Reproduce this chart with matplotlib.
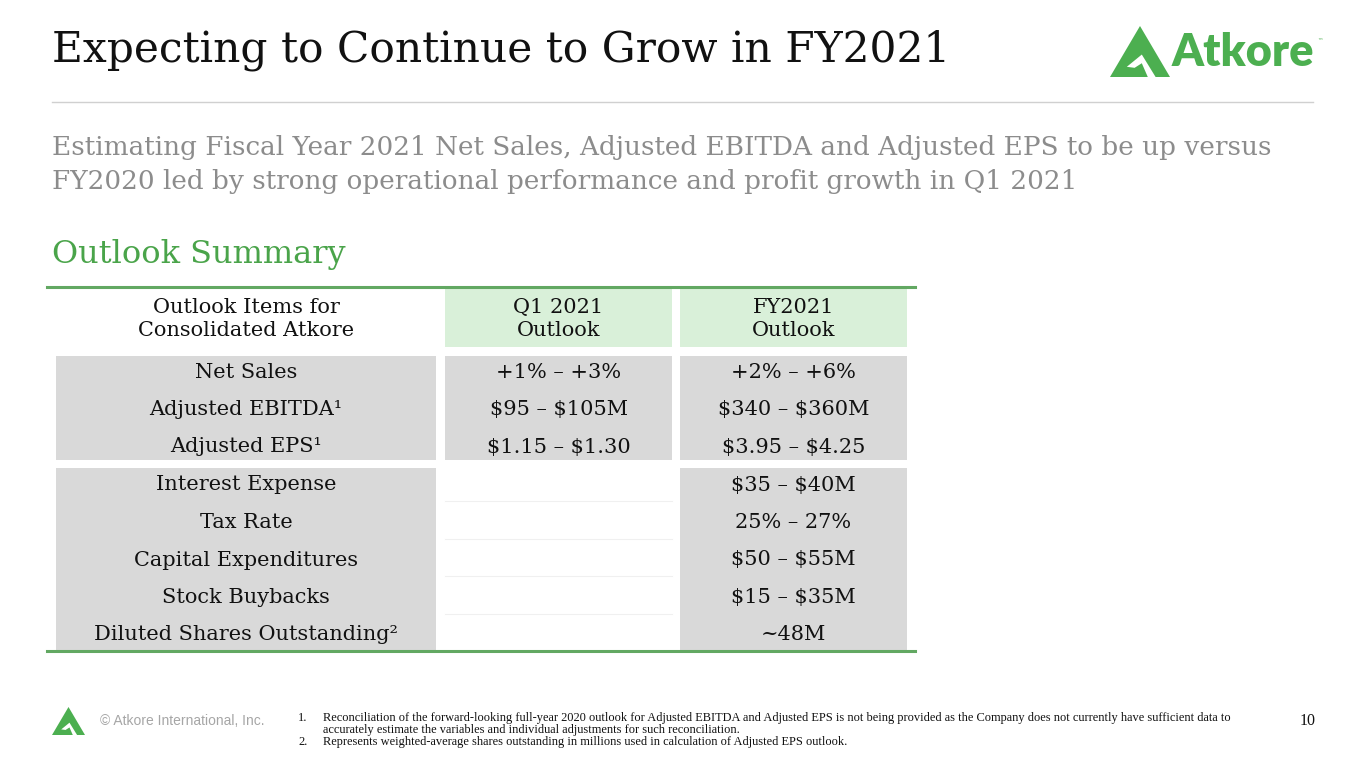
import matplotlib.pyplot as plt
from matplotlib.patches import Rectangle, Polygon

plt.rcParams['text.parse_math'] = False

# ---- data ----
title = "Expecting to Continue to Grow in FY2021"
subtitle = ["Estimating Fiscal Year 2021 Net Sales, Adjusted EBITDA and Adjusted EPS to be up versus",
            "FY2020 led by strong operational performance and profit growth in Q1 2021"]
section = "Outlook Summary"

headers = ["Outlook Items for\nConsolidated Atkore", "Q1 2021\nOutlook", "FY2021\nOutlook"]

items_main = ["Net Sales", "Adjusted EBITDA\u00b9", "Adjusted EPS\u00b9"]
q1_main = ["+1% \u2013 +3%", "$95 \u2013 $105M", "$1.15 \u2013 $1.30"]
fy_main = ["+2% \u2013 +6%", "$340 \u2013 $360M", "$3.95 \u2013 $4.25"]

items_other = ["Interest Expense", "Tax Rate", "Capital Expenditures",
               "Stock Buybacks", "Diluted Shares Outstanding\u00b2"]
fy_other = ["$35 \u2013 $40M", "25% \u2013 27%", "$50 \u2013 $55M", "$15 \u2013 $35M", "~48M"]

footnotes = [
    ("1.", "Reconciliation of the forward-looking full-year 2020 outlook for Adjusted EBITDA and Adjusted EPS is not being provided as the Company does not currently have sufficient data to"),
    ("", "accurately estimate the variables and individual adjustments for such reconciliation."),
    ("2.", "Represents weighted-average shares outstanding in millions used in calculation of Adjusted EPS outlook."),
]
page_no = "10"

GREEN = "#4caf50"
GREEN_TXT = "#4aa44a"
LINE_GREEN = "#62a862"
HEAD_FILL = "#d9f0d9"
GRAY_FILL = "#d9d9d9"
SERIF = "DejaVu Serif"

fig = plt.figure(figsize=(13.65, 7.68), dpi=100)
ax = fig.add_axes([0, 0, 1, 1])
ax.set_xlim(0, 1365)
ax.set_ylim(768, 0)
ax.axis("off")

# ---- header ----
ax.text(52, 50, title, fontsize=30.5, family=SERIF, color="#111111", va="center")
ax.plot([52, 1313], [102, 102], color="#d0d0d0", lw=1)
for i, line in enumerate(subtitle):
    ax.text(52, 147 + 35 * i, line, fontsize=18.9, family=SERIF, color="#8c8c8c", va="center")
ax.text(52, 254, section, fontsize=23, family=SERIF, color=GREEN_TXT, va="center")


def logo(x0, y0, w, h):
    def p(pts):
        return [(x0 + px * w, y0 + py * h) for px, py in pts]
    ax.add_patch(Polygon(p([(0.5, 0), (1, 1), (0, 1)]), closed=True, color=GREEN, lw=0))
    ax.add_patch(Polygon(p([(0.28, 0.80), (0.53, 0.56), (0.76, 1.0), (0.63, 1.0),
                            (0.53, 0.73), (0.41, 0.82)]), closed=True, color="white", lw=0))


logo(1110, 26, 60, 51)
ax.text(1172, 52, "Atkore", fontsize=32.5, family="Lato", weight="heavy", color=GREEN, va="center")
ax.text(1317, 41, "\u2122", fontsize=4, color=GREEN, va="center")

# ---- table ----
cols = [(56, 436), (445, 672), (680, 907)]
centers = [(a + b) / 2 for a, b in cols]

ax.plot([47, 915], [287, 287], color=LINE_GREEN, lw=2.2)
ax.plot([47, 915], [651, 651], color=LINE_GREEN, lw=2.2)

for (a, b) in cols[1:]:
    ax.add_patch(Rectangle((a, 289), b - a, 58, color=HEAD_FILL, lw=0))
for c, h in zip(centers, headers):
    ax.text(c, 319, h, fontsize=15, family=SERIF, color="#111111",
            ha="center", va="center", linespacing=1.3)

# first block: all columns shaded
for (a, b) in cols:
    ax.add_patch(Rectangle((a, 356), b - a, 104, color=GRAY_FILL, lw=0))
for i, (it, q, f) in enumerate(zip(items_main, q1_main, fy_main)):
    y = 372 + 37.5 * i
    for c, t in zip(centers, [it, q, f]):
        ax.text(c, y, t, fontsize=15, family=SERIF, color="#111111", ha="center", va="center")

# second block: Q1 column left blank
for (a, b) in [cols[0], cols[2]]:
    ax.add_patch(Rectangle((a, 468), b - a, 183, color=GRAY_FILL, lw=0))
for k in range(4):
    ys = 501 + 37.6 * k
    ax.plot([cols[1][0], cols[1][1]], [ys, ys], color="#f0f0f0", lw=0.8)
for i, (it, f) in enumerate(zip(items_other, fy_other)):
    y = 485 + 37.5 * i
    ax.text(centers[0], y, it, fontsize=15, family=SERIF, color="#111111", ha="center", va="center")
    ax.text(centers[2], y, f, fontsize=15, family=SERIF, color="#111111", ha="center", va="center")

# ---- footer ----
logo(52, 707, 33, 28)
ax.text(100, 721, "\u00a9 Atkore International, Inc.", fontsize=10, family="Liberation Sans",
        color="#a6a6a6", va="center")
for i, (num, txt) in enumerate(footnotes):
    y = 718 + 12 * i
    ax.text(298, y, num, fontsize=8.9, family="Liberation Serif", color="#111111", va="center")
    ax.text(323, y, txt, fontsize=8.9, family="Liberation Serif", color="#111111", va="center")
ax.text(1316, 721, page_no, fontsize=11.5, family="Liberation Serif", color="#111111",
        ha="right", va="center")

fig.savefig("out.png", dpi=100)
